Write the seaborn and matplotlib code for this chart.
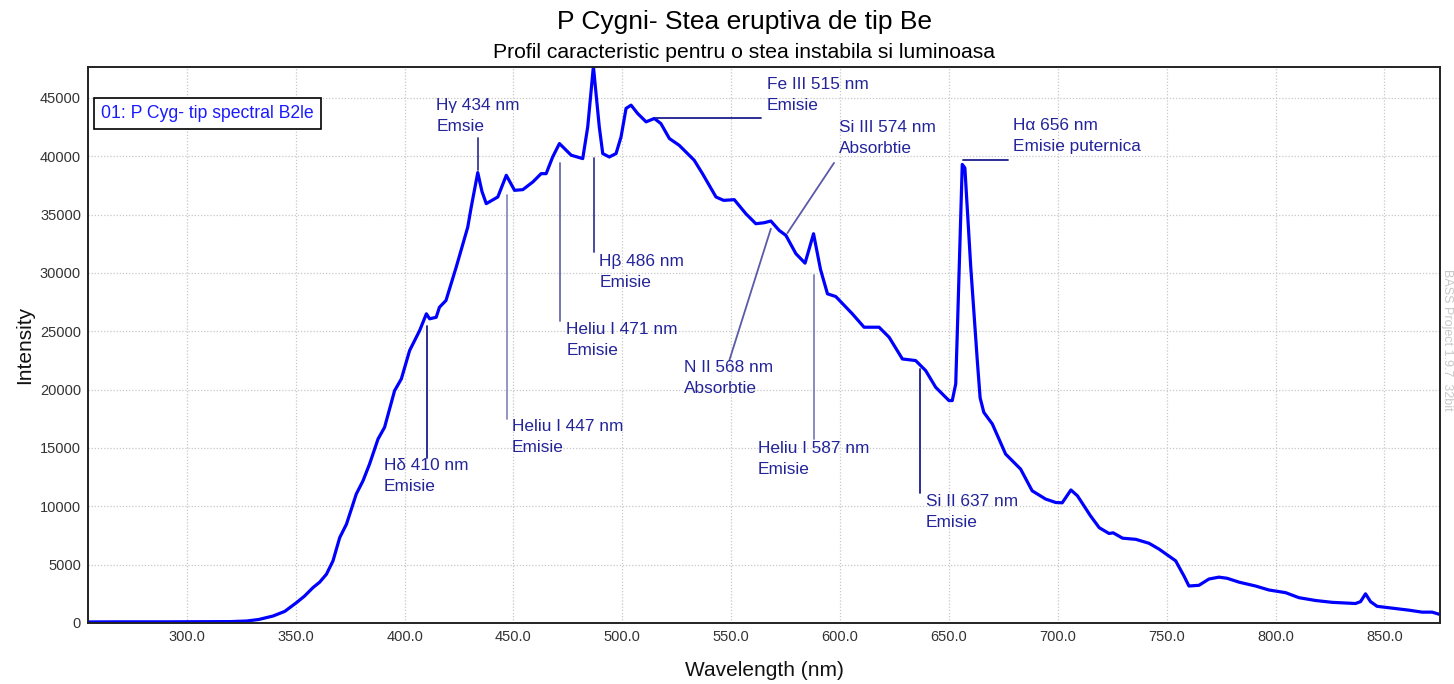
import numpy as np
import pandas as pd
import matplotlib
matplotlib.use("Agg")
import matplotlib.pyplot as plt
import seaborn as sns

# ---- data ----
wavelength = [255, 270, 290, 310, 320, 327.4, 333, 339.6, 345, 350.3, 354, 357.9, 361, 364.1,
              367.1, 370.2, 373.3, 377.8, 380.9, 383.9, 387.8, 390.8, 395.4, 398.5, 402.3, 406.9,
              410, 411.5, 414.5, 416, 419, 423.7, 429, 430.6, 433.6, 435.5, 437.5, 442.8, 446.7,
              450.5, 454.3, 458.9, 462.7, 465, 468, 471.1, 476.5, 481.8, 484.1, 486.7, 489.4, 491,
              494, 497.1, 499.4, 501.7, 504, 507, 510.9, 514.7, 517.7, 521.6, 526.1, 533, 536.8,
              543, 546.5, 551.4, 556.7, 561.3, 565, 568.2, 572, 575.1, 579.7, 583.9, 587.8, 591,
              594.2, 598, 605.6, 611, 617.9, 622.5, 628.6, 634.7, 639.3, 643.9, 650, 651.5, 653.1,
              654.0, 656.1, 657.3, 660, 663, 664.3, 666, 669.9, 676, 682.9, 688.2, 694.4, 699, 702,
              706, 709, 712, 715, 719, 723.5, 725.4, 729.7, 735.8, 741.9, 746.5, 754.1, 758, 760.2,
              764.8, 769.4, 774, 777.8, 783.2, 790.8, 796.9, 804.6, 810.7, 818.3, 826, 836.7, 839,
              841.3, 843.6, 846.6, 853.5, 861.2, 867.3, 871.9, 875.5]
intensity = [90, 100, 100, 110, 120, 170, 300, 600, 1000, 1740, 2300, 3030, 3500, 4180,
             5320, 7320, 8470, 11050, 12190, 13620, 15770, 16770, 19910, 20920, 23350, 25060,
             26500, 26070, 26200, 27060, 27640, 30500, 33930, 35650, 38600, 37000, 35940, 36510, 38370,
             37080, 37140, 37800, 38510, 38510, 39940, 41090, 40090, 39800, 42520, 47700, 42520, 40230,
             39940, 40230, 41660, 44100, 44380, 43670, 42950, 43240, 42800, 41520, 40940, 39660, 38510,
             36510, 36220, 36280, 35080, 34220, 34300, 34450, 33650, 33220, 31650, 30840, 33360, 30300,
             28210, 27980, 26500, 25350, 25350, 24490, 22630, 22490, 21630, 20200, 19060, 19060, 20490,
             26000, 39300, 39000, 30500, 22500, 19300, 18050, 17060, 14480, 13190, 11330, 10620, 10330, 10300,
             11400, 10900, 10040, 9180, 8170, 7670, 7730, 7270, 7170, 6830, 6330, 5330, 4000, 3170,
             3230, 3770, 3930, 3830, 3500, 3170, 2830, 2600, 2170, 1930, 1770, 1670, 1830,
             2500, 1830, 1430, 1270, 1100, 930, 930, 730]

x_ticks = [300, 350, 400, 450, 500, 550, 600, 650, 700, 750, 800, 850]
y_ticks = [0, 5000, 10000, 15000, 20000, 25000, 30000, 35000, 40000, 45000]

# annotations: label text, text anchor (x, y), marker line (x0, y0, x1, y1), line colour
ann_labels = ["H\u03b4 410 nm\nEmisie", "H\u03b3 434 nm\nEmsie", "Heliu I 447 nm\nEmisie",
              "Heliu I 471 nm\nEmisie", "H\u03b2 486 nm\nEmisie", "Fe III 515 nm\nEmisie",
              "N II 568 nm\nAbsorbtie", "Si III 574 nm\nAbsorbtie", "Heliu I 587 nm\nEmisie",
              "Si II 637 nm\nEmisie", "H\u03b1 656 nm\nEmisie puternica"]
ann_text_x = [390.4, 414.5, 449.2, 474.2, 489.4, 566.4, 528.4, 599.5, 562.1, 639.3, 679.5]
ann_text_y = [14150, 45000, 17490, 25820, 31630, 46790, 22530, 43130, 15610, 11080, 43270]
ann_line = [(410.2, 25490, 410.2, 14160), (433.6, 41540, 433.6, 38800), (447.1, 36650, 447.1, 17480),
            (471.4, 39430, 471.4, 25920), (487.2, 39890, 487.2, 31790), (515.5, 43240, 563.9, 43240),
            (568.2, 33790, 549.1, 22490), (575.8, 33420, 597.2, 39430), (588.1, 29790, 588.1, 15770),
            (636.7, 21780, 636.7, 11130), (656.6, 39720, 677.1, 39720)]
ann_line_col = ["#1e1e8c", "#3a3a98", "#8a8ac4", "#6a6ab0", "#3a3a98", "#1e1e8c",
                "#5a5aa8", "#5a5aa8", "#8080bc", "#1e1e8c", "#1e1e8c"]

df = pd.DataFrame({"Wavelength (nm)": wavelength, "Intensity": intensity})

sns.set_style("white")
plt.rcParams["font.family"] = ["Liberation Sans", "DejaVu Sans"]

fig = plt.figure(figsize=(14.54, 6.84), dpi=100)
ax = fig.add_axes([88 / 1454, 61 / 684, 1352 / 1454, 556 / 684])

sns.lineplot(data=df, x="Wavelength (nm)", y="Intensity", ax=ax, color="#0000ff",
             linewidth=2.3, sort=False)

ax.set_xlim(254.6, 875.5)
ax.set_ylim(0, 47650)
ax.set_xticks(x_ticks)
ax.set_xticklabels([f"{v:.1f}" for v in x_ticks])
ax.set_yticks(y_ticks)
ax.set_yticklabels([str(v) for v in y_ticks])
ax.tick_params(axis="both", length=0, labelsize=10.5, labelcolor="#333333", pad=5)
ax.grid(True, linestyle=(0, (1, 1.5)), color="#c8c8c8", linewidth=0.9)
for s in ax.spines.values():
    s.set_color("#222222")
    s.set_linewidth(1.4)

ax.set_xlabel("Wavelength (nm)", fontsize=15, color="#111111", labelpad=12)
ax.set_ylabel("Intensity", fontsize=15, color="#111111", labelpad=4)

fig.text(0.512, 1 - 22 / 684, "P Cygni- Stea eruptiva de tip Be", ha="center", va="center",
         fontsize=19, color="black")
fig.text(0.512, 1 - 53 / 684, "Profil caracteristic pentru o stea instabila si luminoasa",
         ha="center", va="center", fontsize=15.2, color="black")

for lab, tx, ty, (x0, y0, x1, y1), lc in zip(ann_labels, ann_text_x, ann_text_y, ann_line, ann_line_col):
    ax.plot([x0, x1], [y0, y1], color=lc, linewidth=1.3, zorder=3)
    ax.text(tx, ty, lab, ha="left", va="top", fontsize=12.4, color="#24249a",
            linespacing=1.5, zorder=4)

ax.text((101 - 88) / 1352, 0.917, "01: P Cyg- tip spectral B2le",
        transform=ax.transAxes, ha="left", va="center", fontsize=12.7, color="#1a1aff",
        bbox=dict(boxstyle="square,pad=0.4", facecolor="white", edgecolor="black", linewidth=1.2),
        zorder=5)

fig.text(1447 / 1454, 1 - 340 / 684, "BASS Project 1.9.7  32bit", rotation=-90,
         ha="center", va="center", fontsize=9, color="#c8c8c8")

fig.savefig("out.png", dpi=100)
